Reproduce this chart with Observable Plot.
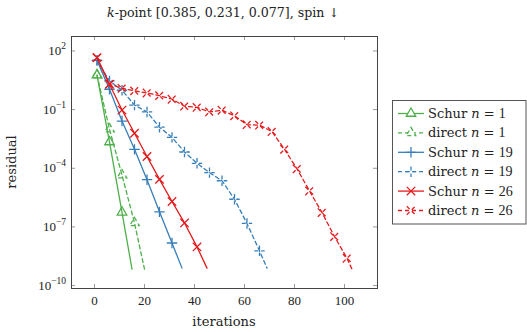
<!DOCTYPE html>
<html><head><meta charset="utf-8">
<script src="https://cdn.jsdelivr.net/npm/d3@7"></script>
<script src="https://cdn.jsdelivr.net/npm/@observablehq/plot@0.6"></script>
<style>
html,body{margin:0;padding:0;background:#fff;}
</style>
</head><body><div id="chart"></div>
<script>
// ---- data ----
const xTicks = [0, 20, 40, 60, 80, 100];
const yTicks = [1e2, 1e-1, 1e-4, 1e-7, 1e-10];
const yTickExp = ["2", "−1", "−4", "−7", "−10"];

const schur1Iter = [1, 6, 11, 15];
const schur1Res  = [5.8, 2.2e-3, 5.6e-7, 6.9e-10];
const direct1Iter = [1, 6, 11, 16, 20];
const direct1Res  = [5.8, 1.0e-2, 4.5e-5, 1.6e-7, 6.9e-10];

const schur19Iter = [1, 6, 11, 16, 21, 26, 31, 35];
const schur19Res  = [33, 1.1, 2.6e-2, 9.3e-4, 2.6e-5, 5.9e-7, 1.5e-8, 7.8e-10];
const direct19Iter = [1, 6, 11, 16, 21, 26, 31, 36, 41, 46, 51, 56, 61, 66, 69];
const direct19Res  = [33, 2.95, 0.98, 0.17, 7.6e-2, 1.26e-2, 3.8e-3, 6.8e-4, 1.8e-4, 6.0e-5, 2.3e-5, 2.6e-6, 1.5e-7, 6.0e-9, 7.8e-10];

const schur26Iter = [1, 6, 11, 16, 21, 26, 31, 36, 41, 45];
const schur26Res  = [45.7, 2.0, 9.5e-2, 6.2e-3, 4.0e-4, 2.7e-5, 2.0e-6, 1.6e-7, 9.5e-9, 7.8e-10];
const direct26Iter = [1, 6, 11, 16, 21, 26, 31, 36, 41, 46, 51, 56, 61, 66, 71, 76, 81, 86, 91, 96, 101, 103];
const direct26Res  = [45.7, 2.0, 1.23, 0.91, 0.71, 0.52, 0.34, 0.15, 0.13, 7.6e-2, 9.3e-2, 4.8e-2, 1.7e-2, 1.6e-2, 7.6e-3, 9.3e-4, 9.3e-5, 6.9e-6, 5.4e-7, 3.2e-8, 2.5e-9, 6.9e-10];

const methods = ["Schur", "direct", "Schur", "direct", "Schur", "direct"];
const nValues = ["1", "1", "19", "19", "26", "26"];

// ---- styles ----
const green = "#4daf4a", blue = "#377eb8", red = "#e41a1c";
const dash = "4,3";
const triSym = {draw(ctx, size) { const r = Math.sqrt(size / Math.PI);
  ctx.moveTo(0, -r); ctx.lineTo(r * 0.866, r * 0.5); ctx.lineTo(-r * 0.866, r * 0.5); ctx.closePath(); }};
const plusSym = {draw(ctx, size) { const r = Math.sqrt(size / Math.PI);
  ctx.moveTo(-r, 0); ctx.lineTo(r, 0); ctx.moveTo(0, -r); ctx.lineTo(0, r); }};
const timesSym = {draw(ctx, size) { const r = Math.sqrt(size / Math.PI);
  ctx.moveTo(-r, -r); ctx.lineTo(r, r); ctx.moveTo(-r, r); ctx.lineTo(r, -r); }};

const series = [
  {iter: schur1Iter,  res: schur1Res,  color: green, dash: null, sym: triSym,   size: 5.5},
  {iter: direct1Iter, res: direct1Res, color: green, dash: dash, sym: triSym,   size: 5.5},
  {iter: schur19Iter, res: schur19Res, color: blue,  dash: null, sym: plusSym,  size: 5.2},
  {iter: direct19Iter,res: direct19Res,color: blue,  dash: dash, sym: plusSym,  size: 5.2},
  {iter: schur26Iter, res: schur26Res, color: red,   dash: null, sym: timesSym, size: 4.2},
  {iter: direct26Iter,res: direct26Res,color: red,   dash: dash, sym: timesSym, size: 4.2}
];

const lw = 1.3;
const dataMarks = series.flatMap(s => {
  const d = s.iter.map((it, i) => ({it, r: s.res[i]}));
  const common = {x: "it", y: "r", stroke: s.color, strokeWidth: lw};
  if (s.dash) common.strokeDasharray = s.dash;
  return [
    Plot.line(d, common),
    Plot.dot(d.slice(0, -1), {...common, symbol: s.sym, r: s.size, fill: "none"})
  ];
});

const W = 527, H = 332, mL = 71, mR = 150, mT = 36, mB = 44;
const frameH = H - mT - mB, frameW = W - mL - mR;
const tickLen = 4;
const numFont = "'Liberation Serif', serif";
const txtFont = "'DejaVu Serif', serif";

const chart = Plot.plot({
  width: W, height: H,
  marginLeft: mL, marginRight: mR, marginTop: mT, marginBottom: mB,
  x: {domain: [-9.2, 113.2], axis: null},
  y: {type: "log", domain: [10 ** -10.15, 10 ** 2.74], axis: null},
  style: {fontFamily: numFont, fontSize: "13px", background: "white", color: "#222"},
  marks: [
    Plot.tickX(xTicks, {x: d => d, insetBottom: frameH - tickLen, stroke: "#999"}),
    Plot.tickX(xTicks, {x: d => d, insetTop: frameH - tickLen, stroke: "#999"}),
    Plot.tickY(yTicks, {y: d => d, insetRight: frameW - tickLen, stroke: "#999"}),
    Plot.tickY(yTicks, {y: d => d, insetLeft: frameW - tickLen, stroke: "#999"}),
    Plot.axisX({ticks: xTicks, tickSize: 0, tickPadding: 7, label: null, fontSize: 13}),
    ...dataMarks,
    Plot.frame({stroke: "#444", strokeWidth: 1})
  ]
});

const svg = d3.select(chart);
const ys = chart.scale("y");

// y tick labels 10^k
yTicks.forEach((v, i) => {
  const t = svg.append("text").attr("x", mL - 5).attr("y", ys.apply(v) + 4.5)
    .attr("text-anchor", "end").attr("font-family", numFont).attr("font-size", 13).attr("fill", "#222");
  t.append("tspan").text("10");
  t.append("tspan").attr("dy", -6).attr("font-size", 9.5).text(yTickExp[i]);
});

// title
const title = svg.append("text").attr("x", 223).attr("y", 17)
  .attr("text-anchor", "middle").attr("font-family", txtFont).attr("font-size", 12.6).attr("fill", "#222");
title.append("tspan").attr("font-style", "italic").text("k");
title.append("tspan").text("-point [0.385, 0.231, 0.077], spin ↓");

// axis labels
svg.append("text").attr("x", (mL + W - mR) / 2).attr("y", 326).attr("text-anchor", "middle")
  .attr("font-family", txtFont).attr("font-size", 13).attr("fill", "#222").text("iterations");
svg.append("text").attr("transform", `translate(16,${mT + frameH / 2}) rotate(-90)`).attr("text-anchor", "middle")
  .attr("font-family", txtFont).attr("font-size", 13).attr("fill", "#222").text("residual");

// legend
const lg = svg.append("g");
lg.append("rect").attr("x", 392.5).attr("y", 100.5).attr("width", 133.5).attr("height", 123.5)
  .attr("fill", "white").attr("stroke", "#555");
series.forEach((s, i) => {
  const cy = 113.5 + i * 19.4;
  const g = lg.append("g");
  const ln = g.append("line").attr("x1", 398).attr("x2", 424).attr("y1", cy).attr("y2", cy)
    .attr("stroke", s.color).attr("stroke-width", lw);
  const path = d3.path();
  s.sym.draw(path, Math.PI * s.size * s.size);
  const mk = g.append("path").attr("d", path.toString()).attr("transform", `translate(411,${cy})`)
    .attr("fill", "white").attr("stroke", s.color).attr("stroke-width", lw);
  if (s.dash) { ln.attr("stroke-dasharray", s.dash); mk.attr("stroke-dasharray", s.dash); }
  const t = g.append("text").attr("x", 428).attr("y", cy + 4.5).attr("text-anchor", "start")
    .attr("font-family", txtFont).attr("font-size", 13).attr("fill", "#222");
  t.append("tspan").text(methods[i] + " ");
  t.append("tspan").attr("font-style", "italic").text("n");
  t.append("tspan").text(" = ");
  t.append("tspan").attr("font-family", numFont).attr("font-size", 14).text(nValues[i]);
});

document.getElementById("chart").appendChild(chart);
</script>
</body></html>
